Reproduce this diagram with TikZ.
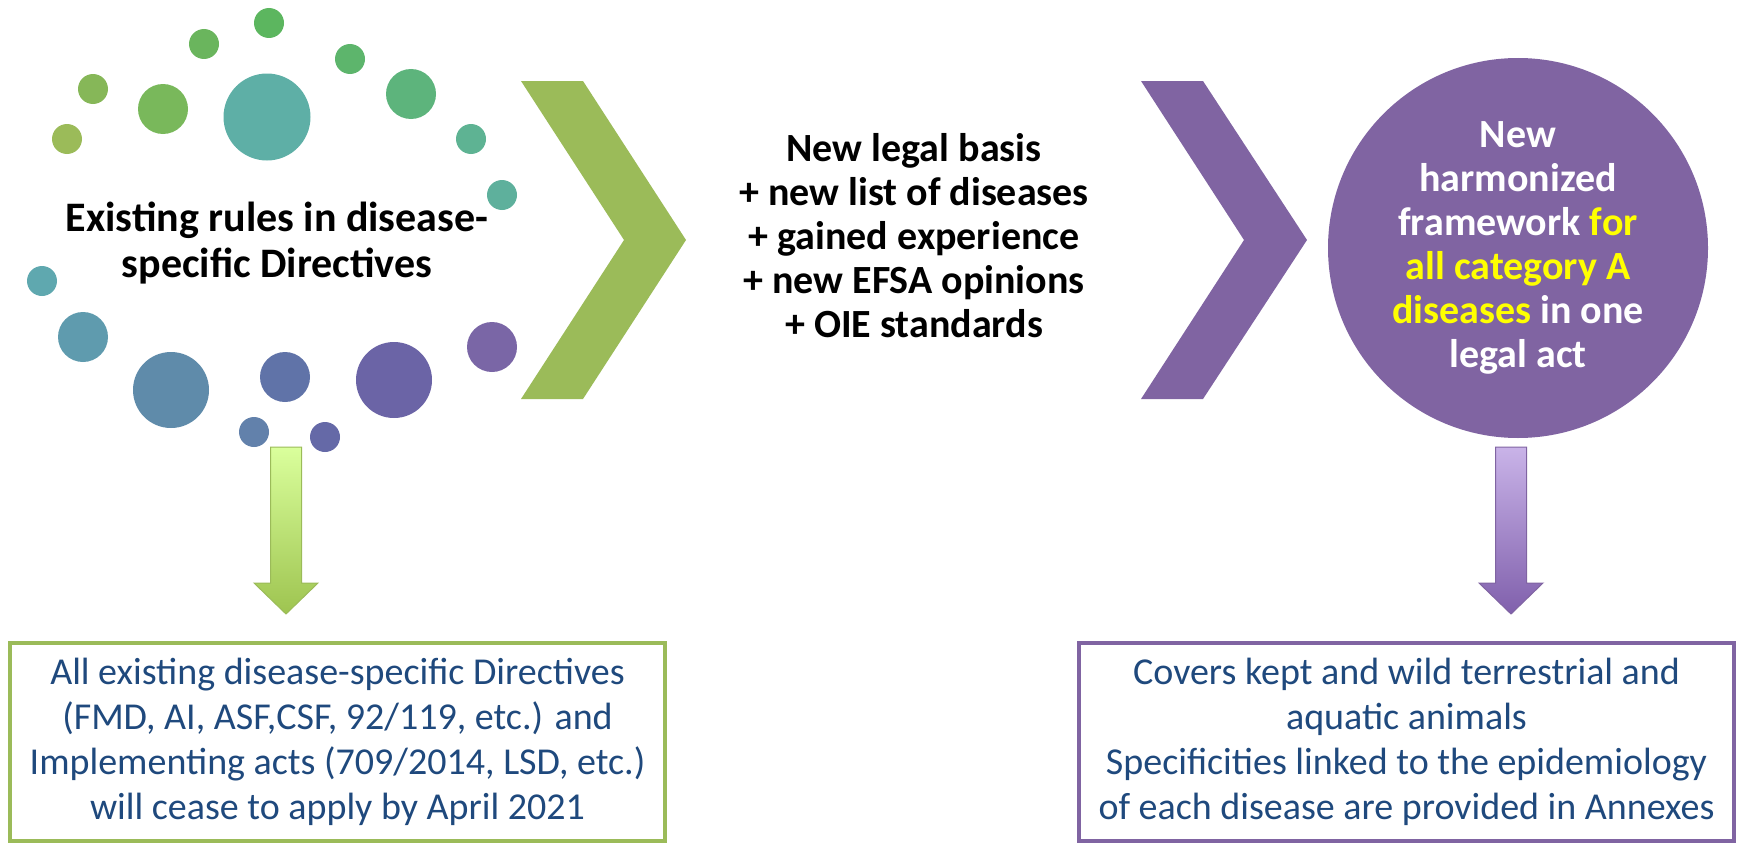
\documentclass[tikz,border=0pt]{standalone}
\usepackage{fontspec}
\setmainfont{Carlito}
\usepackage{tikz}
\usetikzlibrary{shapes}
\definecolor{chev_green}{RGB}{155,187,89}
\definecolor{chev_purple}{RGB}{128,100,162}
\definecolor{hl_yellow}{RGB}{255,255,0}
\definecolor{box_text}{RGB}{31,73,125}
\definecolor{arr_green_top}{RGB}{218,255,156}
\definecolor{arr_green_bot}{RGB}{158,196,80}
\definecolor{arr_purple_top}{RGB}{201,179,232}
\definecolor{arr_purple_bot}{RGB}{128,96,172}
\definecolor{dot_c1}{RGB}{92,182,95}
\definecolor{dot_c2}{RGB}{106,181,93}
\definecolor{dot_c3}{RGB}{93,181,108}
\definecolor{dot_c4}{RGB}{134,183,88}
\definecolor{dot_c5}{RGB}{121,184,91}
\definecolor{dot_c6}{RGB}{94,175,166}
\definecolor{dot_c7}{RGB}{93,180,124}
\definecolor{dot_c8}{RGB}{155,187,89}
\definecolor{dot_c9}{RGB}{94,179,147}
\definecolor{dot_c10}{RGB}{94,176,156}
\definecolor{dot_c11}{RGB}{95,168,175}
\definecolor{dot_c12}{RGB}{95,155,174}
\definecolor{dot_c13}{RGB}{95,139,170}
\definecolor{dot_c14}{RGB}{96,115,168}
\definecolor{dot_c15}{RGB}{107,100,166}
\definecolor{dot_c16}{RGB}{122,102,166}
\definecolor{dot_c17}{RGB}{98,129,171}
\definecolor{dot_c18}{RGB}{101,105,167}

\begin{document}
\begin{tikzpicture}[x=1pt,y=-1pt]
    \tikzstyle{dot}=[circle, inner sep=0pt, draw=none]
    \tikzstyle{dotsm}=[style=dot, minimum size=30pt]
    \tikzstyle{dotmd}=[style=dot, minimum size=50pt]
    \tikzstyle{dotlg}=[style=dot, minimum size=76pt]
    \tikzstyle{headtext}=[text=black, align=center, font=\bfseries\fontsize{40}{44}\selectfont]
    \tikzstyle{bigcircle}=[circle, inner sep=0pt, minimum size=380pt, fill=chev_purple, text=white, align=center, font=\bfseries\fontsize{40}{44}\selectfont]
    \tikzstyle{infobox}=[rectangle, line width=4pt, minimum width=655pt, minimum height=198pt, inner sep=0pt, fill=white, text=box_text, align=center, font=\fontsize{38}{45}\selectfont]
    \tikzstyle{blockarrow}=[line width=1pt, line join=miter]
    \useasboundingbox (0,0) rectangle (1742,843);

    % ring of dots
    \node[dotsm, fill=dot_c1]  (d1)  at (269,23)  {};
    \node[dotsm, fill=dot_c2]  (d2)  at (204,44)  {};
    \node[dotsm, fill=dot_c3]  (d3)  at (350,59)  {};
    \node[dotsm, fill=dot_c4]  (d4)  at (93,89)   {};
    \node[dotmd, fill=dot_c5]  (d5)  at (163,109) {};
    \node[dot, minimum size=87pt, fill=dot_c6] (d6) at (267,117) {};
    \node[dotmd, fill=dot_c7]  (d7)  at (411,94)  {};
    \node[dotsm, fill=dot_c8]  (d8)  at (67,139)  {};
    \node[dotsm, fill=dot_c9]  (d9)  at (471,139) {};
    \node[dotsm, fill=dot_c10] (d10) at (502,195) {};
    \node[dotsm, fill=dot_c11] (d11) at (42,281)  {};
    \node[dotmd, fill=dot_c12] (d12) at (83,337)  {};
    \node[dotlg, fill=dot_c13] (d13) at (171,390) {};
    \node[dotmd, fill=dot_c14] (d14) at (285,377) {};
    \node[dotlg, fill=dot_c15] (d15) at (394,380) {};
    \node[dotmd, fill=dot_c16] (d16) at (492,347) {};
    \node[dotsm, fill=dot_c17] (d17) at (254,432) {};
    \node[dotsm, fill=dot_c18] (d18) at (325,437) {};

    \node[headtext, font=\bfseries\fontsize{42}{46}\selectfont] (existing) at (277,243)
      {Existing rules in disease-\\specific Directives};

    % chevrons
    \fill[chev_green] (521,81) -- (583,81) -- (686,240) -- (583,399) -- (521,399) -- (624,240) -- cycle;
    \fill[chev_purple] (1141,81) -- (1203,81) -- (1307,240) -- (1203,399) -- (1141,399) -- (1244,240) -- cycle;

    \node[headtext] (basis) at (914,236)
      {New legal basis\\+ new list of diseases\\+ gained experience\\+ new EFSA opinions\\+ OIE standards};

    \node[bigcircle] (framework) at (1518,248)
      {New\\harmonized\\framework \textcolor{hl_yellow}{for}\\\textcolor{hl_yellow}{all category A}\\\textcolor{hl_yellow}{diseases} in one\\legal act};

    % result boxes
    \node[infobox, draw=chev_green] (cease) at (337.5,742)
      {All existing disease-specific Directives\\(FMD, AI, ASF,CSF, 92/119, etc.) and\\Implementing acts (709/2014, LSD, etc.)\\will cease to apply by April 2021};
    \node[infobox, draw=chev_purple] (covers) at (1406.5,742)
      {Covers kept and wild terrestrial and\\aquatic animals\\Specificities linked to the epidemiology\\of each disease are provided in Annexes};

    % block arrows down to the boxes
    \coordinate (gfrom) at (286,447);
    \coordinate (pfrom) at (1511,447);
    \path[blockarrow, draw=chev_green, top color=arr_green_top, bottom color=arr_green_bot]
      (gfrom) ++(-15.5,0) -- ++(31,0) -- ++(0,136) -- ++(16.5,0) -- ++(-32,31) coordinate (gto)
      -- ++(-32,-31) -- ++(16.5,0) -- cycle;
    \path[blockarrow, draw=chev_purple, top color=arr_purple_top, bottom color=arr_purple_bot]
      (pfrom) ++(-15.5,0) -- ++(31,0) -- ++(0,136) -- ++(16.5,0) -- ++(-32,31) coordinate (pto)
      -- ++(-32,-31) -- ++(16.5,0) -- cycle;
\end{tikzpicture}
\end{document}
